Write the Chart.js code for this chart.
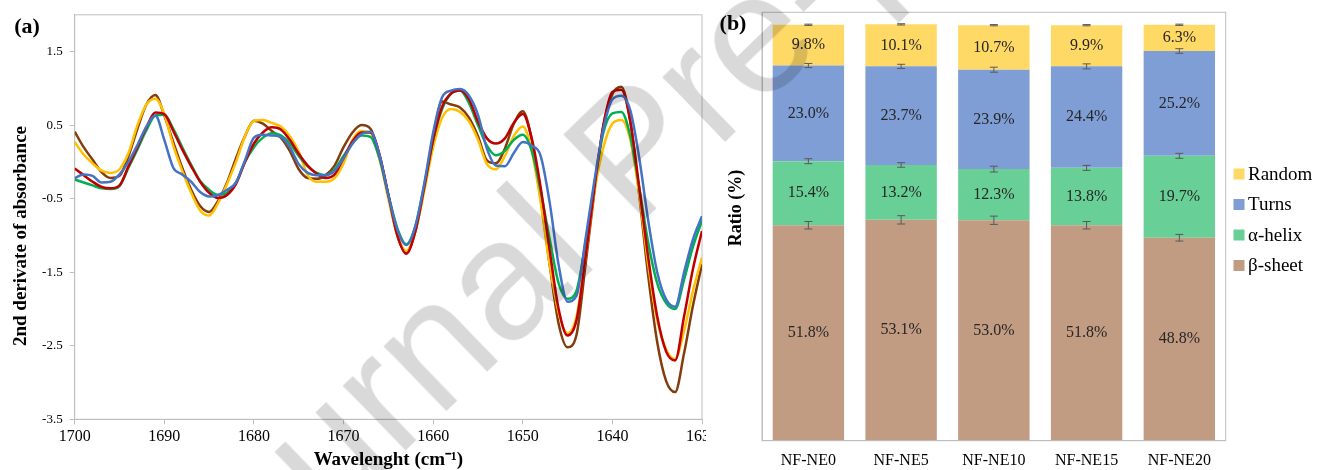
<!DOCTYPE html>
<html>
<head>
<meta charset="utf-8">
<script src="https://cdn.jsdelivr.net/npm/chart.js@4.4.0/dist/chart.umd.min.js"></script>
<style>
  body { margin: 0; background: #fff; width: 1318px; height: 470px; overflow: hidden; position: relative; }
  #left-wrap { position: absolute; left: 0; top: 0; width: 706px; height: 470px; overflow: hidden; }
  #left-box { position: absolute; left: 0; top: 0; width: 730px; height: 470px; }
  #right-box { position: absolute; left: 706px; top: 0; width: 612px; height: 470px; }
  .watermark {
    position: absolute; left: 200px; top: 505px;
    font: 170px 'Liberation Sans', Arial, sans-serif; line-height: 1;
    color: rgba(0, 0, 0, 0.15); white-space: nowrap; pointer-events: none;
    transform-origin: 0 144px; transform: rotate(-44deg);
  }
</style>
</head>
<body>
<div id="left-wrap"><div id="left-box"><canvas id="spectra"></canvas></div></div>
<div id="right-box"><canvas id="structure"></canvas></div>
<div class="watermark">Journal Pre-proof</div>
<script>
const SERIF = "'Liberation Serif', 'Times New Roman', serif";

// panel (a): 2nd derivative spectra
const wavenumbers = [1700, 1699, 1698, 1697, 1696, 1695, 1694, 1693, 1692, 1691,
  1690, 1689, 1688, 1687, 1686, 1685, 1684, 1683, 1682, 1681,
  1680, 1679, 1678, 1677, 1676, 1675, 1674, 1673, 1672, 1671,
  1670, 1669, 1668, 1667, 1666, 1665, 1664, 1663, 1662, 1661,
  1660, 1659, 1658, 1657, 1656, 1655, 1654, 1653, 1652, 1651,
  1650, 1649, 1648, 1647, 1646, 1645, 1644, 1643, 1642, 1641,
  1640, 1639, 1638, 1637, 1636, 1635, 1634, 1633, 1632, 1631, 1630];

const ne0 = [-0.22, -0.17, -0.19, -0.28, -0.27, -0.17, 0.00, 0.23, 0.48, 0.63,
  0.30, -0.08, -0.17, -0.27, -0.41, -0.47, -0.45, -0.38, -0.28, 0.02,
  0.33, 0.37, 0.36, 0.34, 0.20, -0.03, -0.15, -0.18, -0.18, -0.12,
  0.05, 0.25, 0.38, 0.41, 0.10, -0.45, -0.92, -1.13, -0.88, -0.30,
  0.40, 0.88, 0.97, 0.99, 0.90, 0.64, 0.18, -0.05, -0.06, 0.12,
  0.27, 0.22, 0.08, -0.55, -1.40, -1.90, -1.82, -1.05, -0.25, 0.45,
  0.85, 0.90, 0.70, 0.05, -0.80, -1.50, -1.87, -1.97, -1.50, -1.05, -0.74];

const ne5 = [-0.09, -0.18, -0.27, -0.34, -0.36, -0.32, -0.06, 0.20, 0.47, 0.67,
  0.65, 0.42, 0.17, -0.06, -0.27, -0.42, -0.49, -0.45, -0.30, 0.00,
  0.25, 0.40, 0.47, 0.44, 0.30, 0.11, -0.05, -0.16, -0.22, -0.17,
  0.05, 0.28, 0.40, 0.40, 0.10, -0.45, -1.00, -1.25, -0.95, -0.35,
  0.30, 0.75, 0.93, 0.97, 0.85, 0.55, 0.32, 0.25, 0.32, 0.53,
  0.65, 0.32, -0.35, -1.20, -2.00, -2.36, -2.15, -1.30, -0.35, 0.50,
  0.95, 0.98, 0.55, -0.35, -1.30, -2.10, -2.58, -2.70, -2.10, -1.45, -0.94];

const ne10 = [-0.24, -0.28, -0.32, -0.36, -0.37, -0.33, -0.08, 0.17, 0.43, 0.63,
  0.64, 0.45, 0.20, -0.04, -0.26, -0.38, -0.45, -0.42, -0.28, 0.00,
  0.20, 0.33, 0.39, 0.36, 0.25, 0.08, -0.06, -0.15, -0.18, -0.10,
  0.08, 0.25, 0.36, 0.34, 0.05, -0.45, -0.90, -1.12, -0.88, -0.32,
  0.30, 0.72, 0.93, 0.97, 0.80, 0.50, 0.22, 0.09, 0.15, 0.30,
  0.37, 0.15, -0.40, -1.05, -1.65, -1.86, -1.75, -1.10, -0.30, 0.40,
  0.66, 0.68, 0.35, -0.35, -1.10, -1.65, -1.92, -2.00, -1.60, -1.15, -0.80];

const ne15 = [0.27, 0.10, -0.02, -0.12, -0.15, -0.10, 0.12, 0.50, 0.78, 0.86,
  0.65, 0.22, -0.12, -0.42, -0.66, -0.73, -0.56, -0.30, 0.00, 0.35,
  0.56, 0.57, 0.53, 0.48, 0.35, 0.14, -0.18, -0.27, -0.27, -0.22,
  -0.02, 0.30, 0.42, 0.40, 0.05, -0.50, -1.00, -1.21, -0.95, -0.40,
  0.20, 0.60, 0.72, 0.68, 0.55, 0.30, -0.03, -0.10, 0.08, 0.35,
  0.48, 0.15, -0.55, -1.40, -2.05, -2.33, -2.10, -1.30, -0.40, 0.20,
  0.52, 0.57, 0.30, -0.45, -1.40, -2.15, -2.55, -2.68, -2.30, -1.75, -1.30];

const ne20 = [0.41, 0.20, 0.03, -0.14, -0.22, -0.19, 0.08, 0.45, 0.78, 0.91,
  0.63, 0.27, -0.08, -0.38, -0.60, -0.68, -0.53, -0.28, 0.05, 0.35,
  0.56, 0.52, 0.42, 0.33, 0.15, -0.10, -0.22, -0.23, -0.18, -0.05,
  0.20, 0.40, 0.50, 0.45, 0.10, -0.45, -1.00, -1.23, -0.95, -0.35,
  0.35, 0.82, 0.78, 0.74, 0.60, 0.35, 0.02, -0.02, 0.18, 0.52,
  0.69, 0.30, -0.50, -1.40, -2.20, -2.52, -2.35, -1.40, -0.40, 0.50,
  0.92, 1.02, 0.55, -0.45, -1.55, -2.45, -2.98, -3.13, -2.60, -1.95, -1.39];

const xTicks = [1700, 1690, 1680, 1670, 1660, 1650, 1640, 1630];
const yTicks = [-3.5, -2.5, -1.5, -0.5, 0.5, 1.5];

// panel (b): secondary structure
const samples = ['NF-NE0', 'NF-NE5', 'NF-NE10', 'NF-NE15', 'NF-NE20'];
const betaSheet = [51.8, 53.1, 53.0, 51.8, 48.8];
const alphaHelix = [15.4, 13.2, 12.3, 13.8, 19.7];
const turns = [23.0, 23.7, 23.9, 24.4, 25.2];
const randomCoil = [9.8, 10.1, 10.7, 9.9, 6.3];
const betaErr = [0.9, 1.0, 1.0, 0.9, 0.8];
const alphaErr = [0.6, 0.55, 0.7, 0.6, 0.6];
const turnsErr = [0.5, 0.5, 0.6, 0.6, 0.55];
const randomErr = [0.15, 0.15, 0.15, 0.15, 0.15];

function toPoints(values) {
  return values.map((v, i) => ({ x: wavenumbers[i], y: v }));
}

function curve(label, values, color) {
  return {
    label: label,
    data: toPoints(values),
    borderColor: color,
    borderWidth: 2.5,
    pointRadius: 0,
    cubicInterpolationMode: 'monotone',
    fill: false
  };
}

const spectraDecor = {
  id: 'spectraDecor',
  beforeDatasetsDraw(chart) {
    const { ctx, chartArea: a } = chart;
    ctx.save();
    ctx.strokeStyle = '#bfbfbf';
    ctx.lineWidth = 1;
    ctx.strokeRect(a.left, a.top, a.right - a.left, a.bottom - a.top);
    ctx.restore();
  },
  afterDraw(chart) {
    const ctx = chart.ctx;
    ctx.save();
    ctx.fillStyle = '#000';
    ctx.font = 'bold 22px ' + SERIF;
    ctx.textAlign = 'center';
    ctx.textBaseline = 'middle';
    ctx.fillText('(a)', 27, 27);
    ctx.translate(21, 236);
    ctx.rotate(-Math.PI / 2);
    ctx.font = 'bold 19px ' + SERIF;
    ctx.fillText('2nd derivate of absorbance', 0, 0);
    ctx.restore();
  }
};

new Chart(document.getElementById('spectra'), {
  type: 'line',
  data: {
    datasets: [
      curve('NF-NE0', ne0, '#4472C4'),
      curve('NF-NE5', ne5, '#C00000'),
      curve('NF-NE10', ne10, '#00B050'),
      curve('NF-NE15', ne15, '#FFC000'),
      curve('NF-NE20', ne20, '#843C0C')
    ]
  },
  options: {
    responsive: true,
    maintainAspectRatio: false,
    animation: false,
    layout: { padding: { left: 0, right: 28, top: 13.3, bottom: 0 } },
    plugins: { legend: { display: false }, tooltip: { enabled: false } },
    scales: {
      x: {
        type: 'linear',
        reverse: true,
        min: 1630,
        max: 1700,
        afterBuildTicks: scale => { scale.ticks = xTicks.map(v => ({ value: v })); },
        afterFit: scale => { scale.height = 50.7; },
        ticks: { color: '#000', font: { family: SERIF, size: 16 }, padding: 3, callback: v => String(v) },
        grid: { drawOnChartArea: false, tickLength: 5, color: '#bfbfbf' },
        border: { color: '#bfbfbf' },
        title: {
          display: true,
          text: 'Wavelenght (cm⁻¹)',
          color: '#000',
          font: { family: SERIF, size: 19, weight: 'bold', lineHeight: 1 },
          padding: 0
        }
      },
      y: {
        min: -3.5,
        max: 2,
        afterBuildTicks: scale => { scale.ticks = yTicks.map(v => ({ value: v })); },
        afterFit: scale => { scale.width = 74.7; },
        ticks: { color: '#000', font: { family: SERIF, size: 13 }, padding: 7, callback: v => String(v) },
        grid: { drawOnChartArea: false, tickLength: 5, color: '#bfbfbf' },
        border: { color: '#bfbfbf' }
      }
    }
  },
  plugins: [spectraDecor]
});

// stacked bars
const errors = [betaErr, alphaErr, turnsErr, randomErr];

const structureDecor = {
  id: 'structureDecor',
  afterDatasetsDraw(chart) {
    const { ctx, chartArea: a } = chart;
    const yScale = chart.scales.y;
    ctx.save();
    ctx.strokeStyle = '#bfbfbf';
    ctx.lineWidth = 1;
    ctx.strokeRect(a.left, a.top, a.right - a.left, a.bottom - a.top);

    const sums = samples.map(() => 0);
    chart.data.datasets.forEach((ds, i) => {
      const meta = chart.getDatasetMeta(i);
      meta.data.forEach((bar, j) => {
        sums[j] += ds.data[j];
        ctx.fillStyle = '#262626';
        ctx.font = '16px ' + SERIF;
        ctx.textAlign = 'center';
        ctx.textBaseline = 'middle';
        ctx.fillText(ds.data[j].toFixed(1) + '%', bar.x, (bar.y + bar.base) / 2);

        const e = errors[i][j];
        const yHi = yScale.getPixelForValue(sums[j] + e);
        const yLo = yScale.getPixelForValue(sums[j] - e);
        ctx.strokeStyle = '#595959';
        ctx.beginPath();
        ctx.moveTo(bar.x, yHi); ctx.lineTo(bar.x, yLo);
        ctx.moveTo(bar.x - 4, yHi); ctx.lineTo(bar.x + 4, yHi);
        ctx.moveTo(bar.x - 4, yLo); ctx.lineTo(bar.x + 4, yLo);
        ctx.stroke();
      });
    });
    ctx.restore();
  },
  afterDraw(chart) {
    const ctx = chart.ctx;
    ctx.save();
    ctx.fillStyle = '#000';
    ctx.textAlign = 'center';
    ctx.textBaseline = 'middle';
    ctx.font = 'bold 22px ' + SERIF;
    ctx.fillText('(b)', 27, 24);

    // legend, top series first
    const ds = chart.data.datasets.slice().reverse();
    ctx.textAlign = 'left';
    ctx.font = '19px ' + SERIF;
    ds.forEach((d, k) => {
      const yy = 174 + k * 30.5;
      ctx.fillStyle = d.backgroundColor;
      ctx.fillRect(527.5, yy - 5.5, 11, 11);
      ctx.fillStyle = '#000';
      ctx.fillText(d.label, 542, yy + 1);
    });

    ctx.translate(30, 208);
    ctx.rotate(-Math.PI / 2);
    ctx.textAlign = 'center';
    ctx.font = 'bold 18px ' + SERIF;
    ctx.fillText('Ratio (%)', 0, 0);
    ctx.restore();
  }
};

new Chart(document.getElementById('structure'), {
  type: 'bar',
  data: {
    labels: samples,
    datasets: [
      { label: 'β-sheet', data: betaSheet, backgroundColor: '#C19B82' },
      { label: 'α-helix', data: alphaHelix, backgroundColor: '#68D097' },
      { label: 'Turns', data: turns, backgroundColor: '#7F9ED6' },
      { label: 'Random', data: randomCoil, backgroundColor: '#FFD966' }
    ]
  },
  options: {
    responsive: true,
    maintainAspectRatio: false,
    animation: false,
    layout: { padding: { left: 0, right: 92.3, top: 12.3, bottom: 0 } },
    datasets: { bar: { barPercentage: 0.77, categoryPercentage: 1 } },
    plugins: { legend: { display: false }, tooltip: { enabled: false } },
    scales: {
      x: {
        stacked: true,
        afterFit: scale => { scale.height = 29.3; },
        ticks: { color: '#000', font: { family: SERIF, size: 16 }, padding: 10 },
        grid: { display: false, drawTicks: false },
        border: { color: '#bfbfbf' }
      },
      y: {
        stacked: true,
        min: 0,
        max: 103,
        afterFit: scale => { scale.width = 56; },
        ticks: { display: false },
        grid: { display: false, drawTicks: false },
        border: { color: '#bfbfbf' }
      }
    }
  },
  plugins: [structureDecor]
});
</script>
</body>
</html>
